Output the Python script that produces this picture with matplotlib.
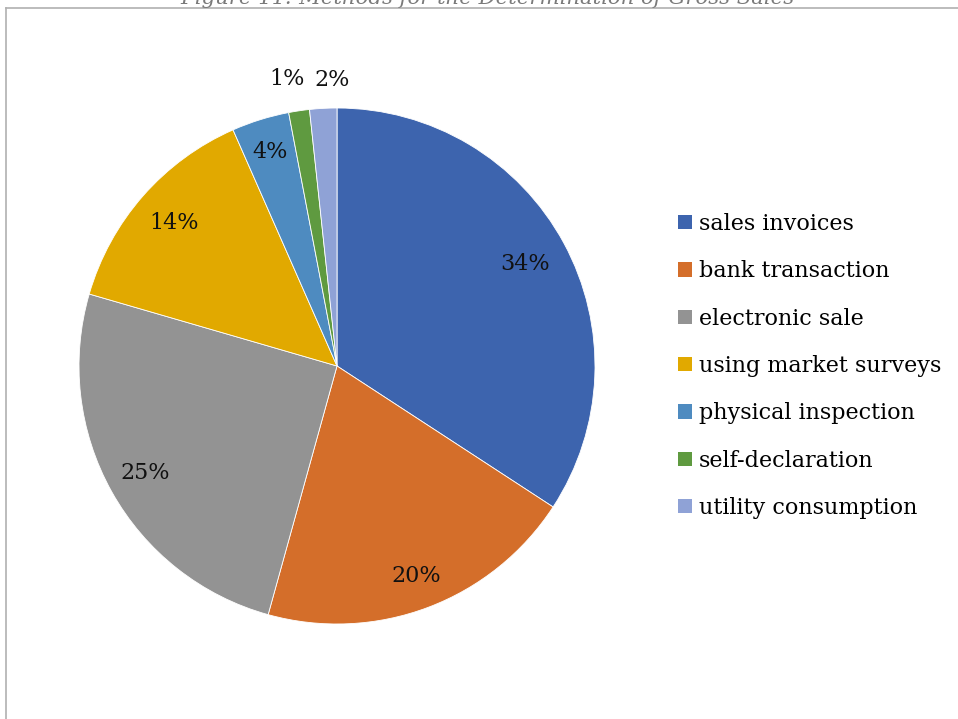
import matplotlib
matplotlib.use("Agg")
import matplotlib.pyplot as plt
from matplotlib.lines import Line2D
from matplotlib.patches import Patch
import numpy as np

categories = ["sales invoices", "bank transaction", "electronic sale",
              "using market surveys", "physical inspection",
              "self-declaration", "utility consumption"]
shares = [34.2, 20.1, 25.2, 13.9, 3.6, 1.3, 1.7]
colors = ["#3D64AE", "#D46E2A", "#939393", "#E1A900",
          "#4E8BC0", "#5F9A40", "#8FA2D6"]
label_dist = [0.83, 0.87, 0.85, 0.84, 0.87, 1.13, 1.11]
label_shift = [0, 0, 0, 0, 0, 1.5, -2.0]  # degrees, to keep small labels apart

title = "Figure 11: Methods for the Determination of Gross Sales"

W, H = 958, 719
fig = plt.figure(figsize=(W / 100, H / 100), dpi=100)
fig.patch.set_facecolor("white")

serif = ["DejaVu Serif"]

# pie axes: centre (337, 366), radius ~258 px
cx, cy, r = 337, 366, 258
ax = fig.add_axes([(cx - r) / W, 1 - (cy + r) / H, 2 * r / W, 2 * r / H])
wedges, _ = ax.pie(shares, colors=colors, startangle=90, counterclock=False,
                   radius=1.0,
                   wedgeprops=dict(edgecolor="white", linewidth=0.6))
ax.set_xlim(-1, 1)
ax.set_ylim(-1, 1)
ax.set_aspect("equal")
ax.axis("off")

for w, v, d, s in zip(wedges, shares, label_dist, label_shift):
    ang = np.deg2rad((w.theta1 + w.theta2) / 2 + s)
    ax.text(d * np.cos(ang), d * np.sin(ang), f"{v:.0f}%",
            ha="center", va="center", fontsize=16, family=serif,
            color="#111111", clip_on=False)

# legend
handles = [Patch(facecolor=c, edgecolor="none") for c in colors]
fig.legend(handles, categories, loc="upper left",
           bbox_to_anchor=(678 / W, 1 - 213 / H),
           frameon=False, prop=dict(family=serif, size=16),
           handlelength=0.62, handleheight=0.62, handletextpad=0.33,
           labelspacing=1.14, borderpad=0, borderaxespad=0)

# frame lines
fig.add_artist(Line2D([5.5 / W, 5.5 / W], [0, 1 - 7.5 / H],
                      transform=fig.transFigure, color="#B0B0B0", lw=1.2))
fig.add_artist(Line2D([5.5 / W, 1], [1 - 7.5 / H, 1 - 7.5 / H],
                      transform=fig.transFigure, color="#B0B0B0", lw=1.2))

# caption, partly above the top edge
fig.text(487 / W, 1 - 3.5 / H, title, ha="center", va="baseline",
         fontsize=15.3, style="italic", family=serif, color="#7A7A7A")

fig.savefig("out.png", dpi=100, facecolor="white")
